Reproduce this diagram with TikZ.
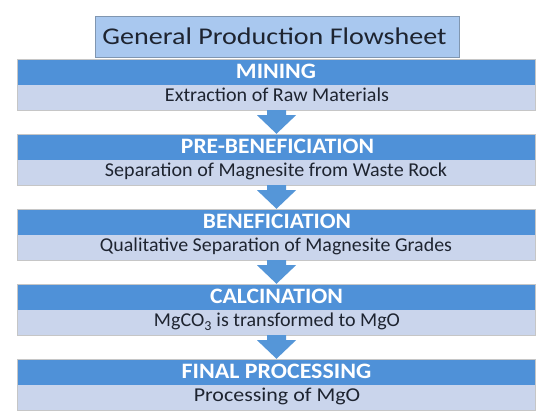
\documentclass[tikz,border=0pt]{standalone}
\usepackage{fontspec}
\setmainfont{Carlito}
\usetikzlibrary{calc}
\definecolor{bandDark}{HTML}{4F91D8}
\definecolor{bandLight}{HTML}{CAD5EC}
\definecolor{titleFill}{HTML}{A9C8EF}
\definecolor{titleLine}{HTML}{8096B0}
\definecolor{arrowBlue}{HTML}{5596D8}
\definecolor{textDark}{HTML}{1E2430}
\newcommand{\fitw}[2]{\resizebox{#1pt}{\height}{#2}}
\tikzset{
  titlebox/.style={draw=titleLine, line width=0.8pt, fill=titleFill, minimum width=364pt, minimum height=41pt, inner sep=0pt},
  titletext/.style={anchor=base, inner sep=0pt, font=\fontsize{24}{26}\selectfont, text=textDark},
  headband/.style={fill=bandDark, minimum width=517pt, minimum height=25pt, inner sep=0pt},
  subband/.style={fill=bandLight, minimum width=517pt, minimum height=25pt, inner sep=0pt},
  headtext/.style={anchor=base, inner sep=0pt, font=\bfseries\fontsize{22}{24}\selectfont, text=white},
  subtext/.style={anchor=base, inner sep=0pt, font=\fontsize{19.6}{22}\selectfont, text=textDark},
  frameline/.style={draw=gray!45, line width=0.7pt},
  flowarrow/.style={fill=arrowBlue, draw=none}
}
\newcommand{\flowarrow}[2]{%
  \fill[flowarrow] ($(#1.south)+(-9.5,0)$) -- ($(#1.south)+(9.5,0)$) -- ($(#1.south)+(9.5,5)$) -- ($(#1.south)+(19.5,5)$) -- ($(#2.north)+(0,-1)$) -- ($(#1.south)+(-19.5,5)$) -- ($(#1.south)+(-9.5,5)$) -- cycle;}
\begin{document}
\begin{tikzpicture}[x=1pt,y=-1pt]
\useasboundingbox (0,0) rectangle (550,419);
\fill[white] (0,0) rectangle (550,419);
\node[titlebox] (title) at (277,36.5) {};
\node[titletext] (titlet) at (274.5,44.3) {\fitw{344}{General Production Flowsheet}};
\foreach \i/\h/\hw/\hx/\s/\sx in {1/MINING/80/276/{\fitw{224}{Extraction of Raw Materials}}/277,
    2/PRE-BENEFICIATION/193/277.5/{\fitw{342}{Separation of Magnesite from Waste Rock}}/276,
    3/BENEFICIATION/148/277/{\fitw{352}{Qualitative Separation of Magnesite Grades}}/276,
    4/CALCINATION/133/276.5/{\fitw{246}{MgCO\textsubscript{3} is transformed to MgO}}/277,
    5/FINAL PROCESSING/189.5/276.5/{\scalebox{1.12}[1]{Processing of MgO}}/277}{
  \pgfmathsetmacro{\t}{60+75*(\i-1)}
  \node[headband] (h\i) at (276.5,\t+12.5) {};
  \node[subband] (s\i) at (276.5,\t+37.5) {};
  \draw[frameline] (h\i.north west) rectangle (s\i.south east);
  \node[headtext] (ht\i) at (\hx,\t+18.6) {\fitw{\hw}{\h}};
  \node[subtext] (st\i) at (\sx,\t+42) {\s};
}
\flowarrow{s1}{h2}
\flowarrow{s2}{h3}
\flowarrow{s3}{h4}
\flowarrow{s4}{h5}
\end{tikzpicture}
\end{document}
